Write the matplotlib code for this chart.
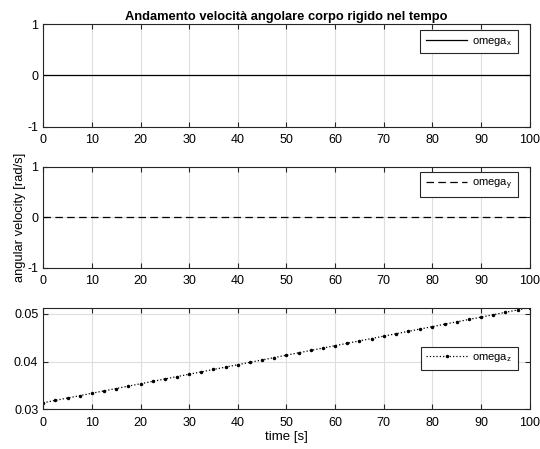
import numpy as np
import matplotlib
matplotlib.use("Agg")
import matplotlib.pyplot as plt

# Angular velocity components of the rigid body over time
time_s = np.arange(0, 100.0 + 1e-9, 2.5)
omega_x = np.zeros_like(time_s)
omega_y = np.zeros_like(time_s)
omega_z_start = 0.0314
omega_z_end = 0.0513
omega_z = np.linspace(omega_z_start, omega_z_end, time_s.size)

x_ticks = [0, 10, 20, 30, 40, 50, 60, 70, 80, 90, 100]
labels = ["omega$_\\mathregular{x}$", "omega$_\\mathregular{y}$", "omega$_\\mathregular{z}$"]

plt.rcParams["font.family"] = ["Liberation Sans", "DejaVu Sans"]
plt.rcParams["font.size"] = 9
plt.rcParams["axes.unicode_minus"] = False

fig = plt.figure(figsize=(5.40, 4.49), dpi=100)

left, width = 0.080, 0.901
rects = [
    (left, 0.718, width, 0.228),
    (left, 0.404, width, 0.225),
    (left, 0.088, width, 0.227),
]

series = [
    (omega_x, dict(linestyle="-", marker=None)),
    (omega_y, dict(linestyle=(0, (6, 3.5)), marker=None)),
    (omega_z, dict(linestyle=":", marker=".", markersize=3)),
]

axes = []
for rect, (vals, style), lab in zip(rects, series, labels):
    ax = fig.add_axes(rect)
    ax.plot(time_s, vals, color="black", linewidth=0.9, label=lab, **style)
    ax.set_xlim(0, 100)
    ax.set_xticks(x_ticks)
    ax.grid(True, color="#dedede", linewidth=0.8)
    ax.set_axisbelow(True)
    ax.tick_params(direction="in", top=True, right=True, length=3.5,
                   width=0.8, colors="#262626", labelcolor="black", labelsize=9)
    ax.tick_params(axis="x", pad=5.5)
    ax.tick_params(axis="y", pad=3.5)
    for sp in ax.spines.values():
        sp.set_color("#262626")
        sp.set_linewidth(0.8)
    axes.append(ax)

for ax in axes[:2]:
    ax.set_ylim(-1, 1)
    ax.set_yticks([-1, 0, 1])

axes[2].set_ylim(0.03, omega_z_end)
axes[2].set_yticks([0.03, 0.04, 0.05])
axes[2].set_yticklabels(["0.03", "0.04", "0.05"])

legend_kw = dict(frameon=True, fancybox=False, edgecolor="#262626",
                 framealpha=1, fontsize=8, handlelength=3.7,
                 borderpad=0.5, handletextpad=0.45, borderaxespad=0)
axes[0].legend(loc="upper right", bbox_to_anchor=(0.975, 0.944), **legend_kw)
axes[1].legend(loc="upper right", bbox_to_anchor=(0.975, 0.950), **legend_kw)
axes[2].legend(loc="center right", bbox_to_anchor=(0.975, 0.502), **legend_kw)
for ax in axes:
    ax.get_legend().get_frame().set_linewidth(0.8)

axes[0].set_title("Andamento velocità angolare corpo rigido nel tempo",
                  fontsize=9.3, fontweight="bold", pad=3)
axes[1].set_ylabel("angular velocity [rad/s]", fontsize=9.3)
axes[1].yaxis.set_label_coords(-0.036, 0.5)
axes[2].set_xlabel("time [s]", fontsize=9.5)
axes[2].xaxis.set_label_coords(0.5, -0.215)

fig.savefig("out.png", dpi=100)
